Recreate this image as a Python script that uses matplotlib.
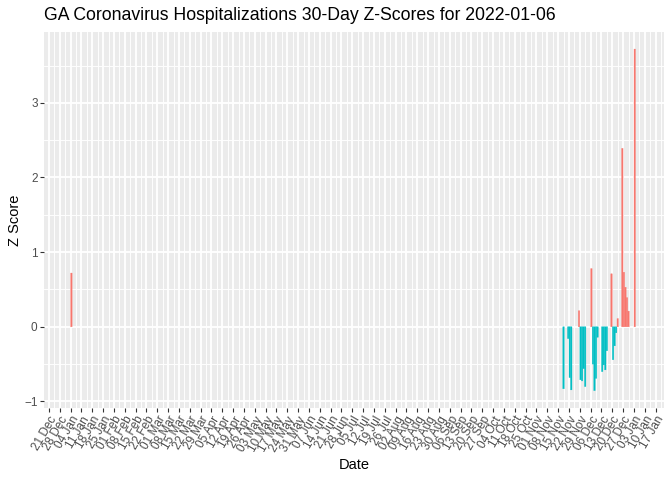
import matplotlib
matplotlib.use("Agg")
import matplotlib.pyplot as plt
import matplotlib.dates as mdates
import numpy as np

plt.rcParams['font.family'] = ['Liberation Sans', 'DejaVu Sans']

title = "GA Coronavirus Hospitalizations 30-Day Z-Scores for 2022-01-06"
x_label = "Date"
y_label = "Z Score"

dates = [
    "2021-01-04",
    "2021-11-18", "2021-11-21", "2021-11-22", "2021-11-23",
    "2021-11-28", "2021-11-29", "2021-11-30", "2021-12-01", "2021-12-02",
    "2021-12-06", "2021-12-07", "2021-12-08", "2021-12-09", "2021-12-10",
    "2021-12-13", "2021-12-14", "2021-12-15", "2021-12-16",
    "2021-12-19", "2021-12-20", "2021-12-21", "2021-12-22", "2021-12-23",
    "2021-12-26", "2021-12-27", "2021-12-28", "2021-12-29", "2021-12-30",
    "2022-01-03",
]
zscores = [
    0.72,
    -0.83, -0.157, -0.68, -0.845,
    0.215, -0.71, -0.725, -0.56, -0.80,
    0.78, -0.50, -0.855, -0.69, -0.14,
    -0.60, -0.51, -0.577, -0.32,
    0.71, -0.44, -0.255, -0.08, 0.11,
    2.39, 0.73, 0.53, 0.39, 0.21,
    3.72,
]
tick_first = "2020-12-21"
tick_last = "2022-01-17"
x_limits = ("2020-12-17 19:00", "2022-01-22 10:00")
y_major = [-1, 0, 1, 2, 3]

pos_color = "#F8766D"
neg_color = "#00BFC4"

fig = plt.figure(figsize=(6.72, 4.8), dpi=100)
L, R, T, B = 44, 664, 32, 407.7
ax = fig.add_axes([L / 672, 1 - B / 480, (R - L) / 672, (B - T) / 480])
ax.set_facecolor("#EBEBEB")
for s in ax.spines.values():
    s.set_visible(False)

xd = mdates.date2num([np.datetime64(d) for d in dates]) + 0.5
z = np.array(zscores)
colors = [pos_color if v > 0 else neg_color for v in z]
bars = ax.bar(xd, z, width=0.9, color=colors, edgecolor=colors, linewidth=0.25, zorder=3)
for b in bars:
    b.set_snap(False)

# x axis
xmin = mdates.date2num(np.datetime64(x_limits[0]))
xmax = mdates.date2num(np.datetime64(x_limits[1]))
ax.set_xlim(xmin, xmax)
t0 = mdates.date2num(np.datetime64(tick_first))
t1 = mdates.date2num(np.datetime64(tick_last))
majors = np.arange(t0, t1 + 1, 7)
ax.set_xticks(majors)
ax.set_xticklabels([mdates.num2date(m).strftime("%d %b") for m in majors])
minors = majors + 3.5
minors = minors[(minors > xmin) & (minors < xmax)]
ax.set_xticks(minors, minor=True)

# y axis
lo = min(z.min(), 0); hi = max(z.max(), 0); rng = hi - lo
ax.set_ylim(lo - 0.05 * rng, hi + 0.05 * rng)
ax.set_yticks(y_major)
ax.set_yticks([-0.5, 0.5, 1.5, 2.5, 3.5], minor=True)

ax.grid(which="major", color="white", linewidth=1.3, zorder=1)
ax.grid(which="minor", color="white", linewidth=0.65, zorder=1)
ax.set_axisbelow(True)

ax.tick_params(which="major", length=2.6, width=0.8, color="#333333",
               labelcolor="#4D4D4D", labelsize=8.45, pad=2)
ax.tick_params(which="minor", length=0)
for lab in ax.get_xticklabels():
    lab.set_rotation(60)
    lab.set_ha("right")
    lab.set_va("top")
    lab.set_rotation_mode("anchor")

fig.text(L / 672, 1 - 15.5 / 480, title, ha="left", va="center", fontsize=12.7, color="black")
fig.text((L + R) / 2 / 672, 1 - 465 / 480, x_label, ha="center", va="center", fontsize=10.5)
fig.text(15 / 672, 1 - ((T + B) / 2) / 480, y_label, ha="center", va="center", rotation=90, fontsize=10.5)

fig.savefig("out.png", dpi=100)
